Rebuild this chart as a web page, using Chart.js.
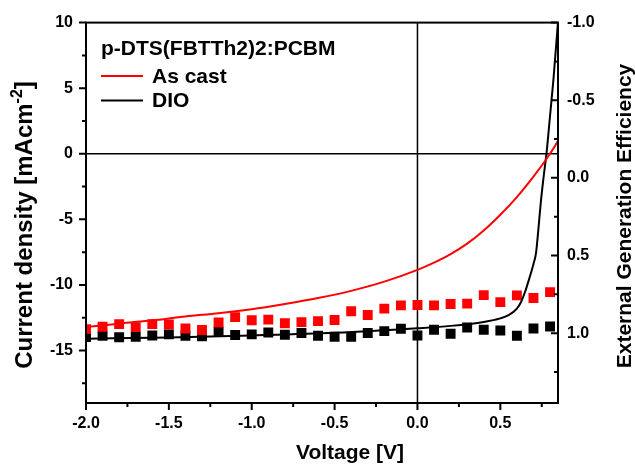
<!DOCTYPE html>
<html>
<head>
<meta charset="utf-8">
<script src="https://cdn.jsdelivr.net/npm/chart.js@4.4.1/dist/chart.umd.min.js"></script>
<style>
  html, body { margin: 0; padding: 0; background: #fff; }
</style>
</head>
<body>
<canvas id="jvChart" width="635" height="466"></canvas>
<script>
// J-V curves: voltage [V] and current density [mA/cm2]
const asCastV = [-2.0, -1.8, -1.6, -1.4, -1.2, -1.0, -0.8, -0.6, -0.4, -0.2, 0.0, 0.1, 0.2, 0.3, 0.4, 0.5, 0.6, 0.7, 0.8, 0.85];
const asCastJ = [-13.2, -12.95, -12.7, -12.4, -12.15, -11.85, -11.45, -11.0, -10.45, -9.75, -8.85, -8.3, -7.65, -6.85, -5.85, -4.65, -3.3, -1.75, 0.0, 1.0];
const dioV = [-2.0, -1.5, -1.0, -0.5, 0.0, 0.2, 0.4, 0.5, 0.55, 0.6, 0.625, 0.65, 0.675, 0.7, 0.715, 0.73, 0.745, 0.76, 0.78, 0.8, 0.82, 0.85];
const dioJ = [-14.1, -14.0, -13.85, -13.65, -13.3, -13.12, -12.82, -12.55, -12.3, -11.8, -11.3, -10.5, -9.5, -8.4, -7.6, -5.7, -3.6, -1.9, 0.2, 2.9, 5.6, 10.4];

// EQE squares (right axis)
const eqeV = [-2.0, -1.9, -1.8, -1.7, -1.6, -1.5, -1.4, -1.3, -1.2, -1.1, -1.0, -0.9, -0.8, -0.7, -0.6, -0.5, -0.4, -0.3, -0.2, -0.1, 0.0, 0.1, 0.2, 0.3, 0.4, 0.5, 0.6, 0.7, 0.8];
const eqeAsCast = [0.974, 0.959, 0.942, 0.961, 0.942, 0.944, 0.970, 0.980, 0.932, 0.897, 0.917, 0.913, 0.936, 0.929, 0.923, 0.915, 0.859, 0.883, 0.842, 0.821, 0.819, 0.821, 0.812, 0.810, 0.755, 0.800, 0.757, 0.774, 0.736];
const eqeDio = [1.025, 1.017, 1.027, 1.023, 1.015, 1.008, 1.017, 1.021, 0.989, 1.012, 1.008, 0.996, 1.010, 0.999, 1.017, 1.023, 1.023, 0.999, 0.987, 0.972, 1.015, 0.978, 1.004, 0.964, 0.978, 0.983, 1.017, 0.970, 0.957];

// axis ticks
const xTicks = [-2.0, -1.5, -1.0, -0.5, 0.0, 0.5];
const xMinor = [-1.75, -1.25, -0.75, -0.25, 0.25, 0.75];
const yTicks = [-15, -10, -5, 0, 5, 10];
const yMinor = [-17.5, -12.5, -7.5, -2.5, 2.5, 7.5];
const y2Ticks = [-1.0, -0.5, 0.0, 0.5, 1.0];
const y2Minor = [-0.75, -0.25, 0.25, 0.75, 1.25];

const FONT = '"Liberation Sans", Arial, Helvetica, sans-serif';
const toPoints = (xs, ys) => xs.map((x, i) => ({ x: x, y: ys[i] }));

// frame, zero lines, tick marks, axis titles and the legend box
const framePlugin = {
    id: 'frame',
    beforeDatasetsDraw(chart) {
        const { ctx, chartArea: a, scales } = chart;
        const x0 = scales.x.getPixelForValue(0);
        const y0 = scales.y.getPixelForValue(0);
        ctx.save();
        ctx.strokeStyle = '#000';
        ctx.lineWidth = 1.5;
        ctx.beginPath();
        ctx.moveTo(a.left, y0); ctx.lineTo(a.right, y0);
        ctx.moveTo(x0, a.top); ctx.lineTo(x0, a.bottom);
        ctx.stroke();
        ctx.restore();
    },
    afterDraw(chart) {
        const { ctx, chartArea: a, scales } = chart;
        ctx.save();
        ctx.strokeStyle = '#000';
        ctx.lineWidth = 2;
        ctx.strokeRect(a.left, a.top, a.right - a.left, a.bottom - a.top);

        // tick marks
        ctx.beginPath();
        const tickX = (vals, len) => vals.forEach(v => {
            const px = scales.x.getPixelForValue(v);
            ctx.moveTo(px, a.bottom); ctx.lineTo(px, a.bottom + len);
        });
        const tickY = (vals, len) => vals.forEach(v => {
            const py = scales.y.getPixelForValue(v);
            ctx.moveTo(a.left, py); ctx.lineTo(a.left - len, py);
        });
        const tickY2 = (vals, len) => vals.forEach(v => {
            const py = scales.y2.getPixelForValue(v);
            ctx.moveTo(a.right, py); ctx.lineTo(a.right - len, py);
        });
        tickX(xTicks, 7); tickX(xMinor, 4);
        tickY(yTicks, 7); tickY(yMinor, 4);
        tickY2(y2Ticks, 7); tickY2(y2Minor, 4);
        ctx.stroke();

        ctx.fillStyle = '#000';

        // x title
        ctx.font = 'bold 21px ' + FONT;
        ctx.textAlign = 'center';
        ctx.textBaseline = 'alphabetic';
        ctx.fillText('Voltage [V]', 350, 459);

        // left title with superscript
        ctx.save();
        ctx.translate(31.5, 225);
        ctx.rotate(-Math.PI / 2);
        ctx.textAlign = 'left';
        const main = 'Current density [mAcm', sup = '-2', end = ']';
        ctx.font = 'bold 24px ' + FONT;
        const w1 = ctx.measureText(main).width;
        const w3 = ctx.measureText(end).width;
        ctx.font = 'bold 16px ' + FONT;
        const w2 = ctx.measureText(sup).width;
        let sx = -(w1 + w2 + w3) / 2;
        ctx.font = 'bold 24px ' + FONT;
        ctx.fillText(main, sx, 0);
        ctx.font = 'bold 16px ' + FONT;
        ctx.fillText(sup, sx + w1, -10);
        ctx.font = 'bold 24px ' + FONT;
        ctx.fillText(end, sx + w1 + w2, 0);
        ctx.restore();

        // right title
        ctx.save();
        ctx.font = 'bold 21px ' + FONT;
        ctx.translate(631, 216);
        ctx.rotate(-Math.PI / 2);
        ctx.textAlign = 'center';
        ctx.fillText('External Generation Efficiency', 0, 0);
        ctx.restore();

        // legend
        ctx.font = 'bold 21px ' + FONT;
        ctx.textAlign = 'left';
        ctx.fillText('p-DTS(FBTTh2)2:PCBM', 101, 55);
        const rows = [chart.data.datasets[0], chart.data.datasets[1]];
        rows.forEach((ds, i) => {
            const ly = 76 + i * 24.5;
            ctx.strokeStyle = ds.borderColor;
            ctx.lineWidth = 2;
            ctx.beginPath();
            ctx.moveTo(101, ly); ctx.lineTo(143, ly);
            ctx.stroke();
            ctx.fillText(ds.label, 152, ly + 6.5);
        });
        ctx.restore();
    }
};

const tickFont = { family: FONT, size: 16, weight: 'bold' };

const ctx = document.getElementById('jvChart').getContext('2d');
const jvChart = new Chart(ctx, {
    type: 'line',
    data: {
        datasets: [{
            label: 'As cast',
            data: toPoints(asCastV, asCastJ),
            borderColor: '#ff0000',
            borderWidth: 2,
            pointRadius: 0,
            cubicInterpolationMode: 'monotone',
            yAxisID: 'y'
        }, {
            label: 'DIO',
            data: toPoints(dioV, dioJ),
            borderColor: '#000000',
            borderWidth: 2,
            pointRadius: 0,
            cubicInterpolationMode: 'monotone',
            yAxisID: 'y'
        }, {
            label: 'EQE as cast',
            data: toPoints(eqeV, eqeAsCast),
            showLine: false,
            pointStyle: 'rect',
            pointRadius: 7,
            pointBorderWidth: 0,
            pointBackgroundColor: '#ff0000',
            yAxisID: 'y2'
        }, {
            label: 'EQE DIO',
            data: toPoints(eqeV, eqeDio),
            showLine: false,
            pointStyle: 'rect',
            pointRadius: 7,
            pointBorderWidth: 0,
            pointBackgroundColor: '#000000',
            yAxisID: 'y2'
        }]
    },
    options: {
        responsive: false,
        animation: false,
        events: [],
        layout: { padding: { top: 20 } },
        plugins: {
            legend: { display: false },
            tooltip: { enabled: false }
        },
        scales: {
            x: {
                type: 'linear',
                min: -2.0,
                max: 0.848,
                afterBuildTicks: s => { s.ticks = xTicks.map(v => ({ value: v })); },
                afterFit: s => { s.height = 63; },
                grid: { display: false, drawTicks: false },
                border: { display: false },
                ticks: { padding: 11, color: '#000', font: tickFont, maxRotation: 0, autoSkip: false,
                    callback: v => v.toFixed(1) }
            },
            y: {
                position: 'left',
                min: -19,
                max: 10,
                afterBuildTicks: s => { s.ticks = yTicks.map(v => ({ value: v })); },
                afterFit: s => { s.width = 86; },
                grid: { display: false, drawTicks: false },
                border: { display: false },
                ticks: { padding: 13, color: '#000', font: tickFont, callback: v => String(v) }
            },
            y2: {
                position: 'right',
                reverse: true,
                min: -1.0,
                max: 1.45,
                afterBuildTicks: s => { s.ticks = y2Ticks.map(v => ({ value: v })); },
                afterFit: s => { s.width = 77; },
                grid: { display: false, drawTicks: false },
                border: { display: false },
                ticks: { padding: 9, color: '#000', font: tickFont, callback: v => v.toFixed(1) }
            }
        }
    },
    plugins: [framePlugin]
});
</script>
</body>
</html>
